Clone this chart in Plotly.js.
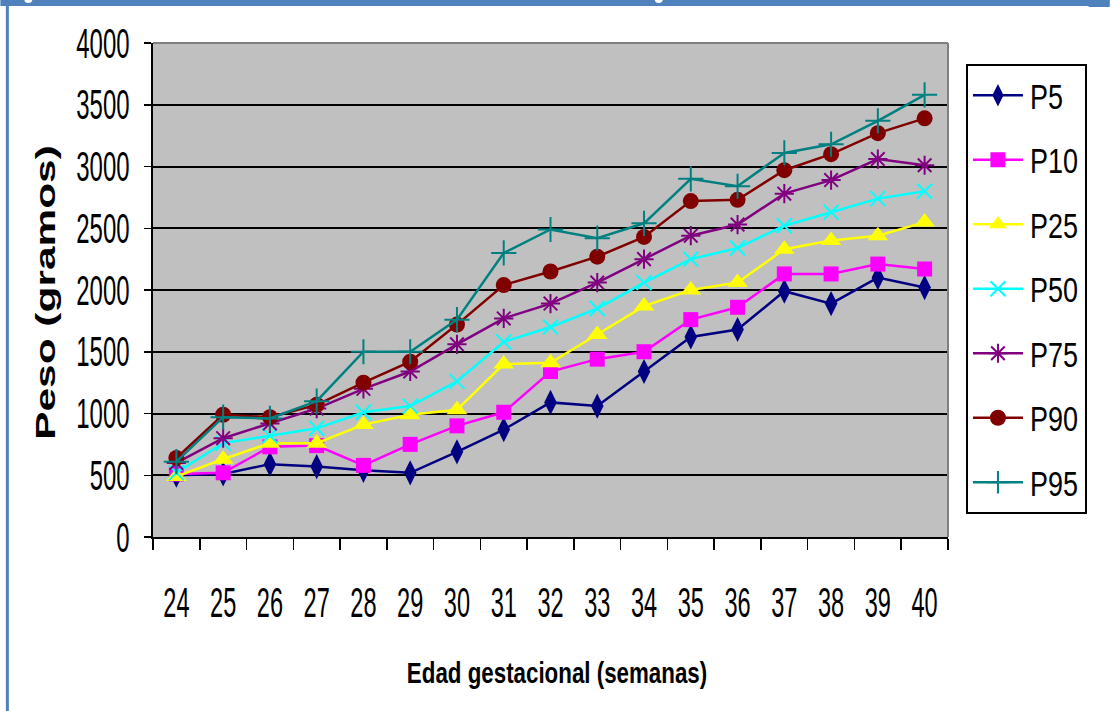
<!DOCTYPE html>
<html>
<head>
<meta charset="utf-8">
<script src="https://cdn.plot.ly/plotly-3.0.1.min.js"></script>
<style>
  html, body { margin: 0; padding: 0; background: #ffffff; }
  #chart { width: 1112px; height: 711px; }
</style>
</head>
<body>
<div id="chart"></div>
<script>
// Gestational age (weeks)
const semanas = ['24','25','26','27','28','29','30','31','32','33','34','35','36','37','38','39','40'];

// Birth weight percentiles (grams)
const p5  = [500, 510, 590, 570, 540, 520, 690, 870, 1090, 1060, 1340, 1620, 1680, 1990, 1890, 2100, 2020];
const p10 = [510, 520, 730, 740, 580, 750, 900, 1010, 1340, 1440, 1500, 1760, 1860, 2130, 2130, 2210, 2170];
const p25 = [490, 630, 760, 760, 910, 990, 1030, 1400, 1410, 1640, 1870, 2000, 2060, 2330, 2400, 2440, 2550];
const p50 = [520, 760, 820, 880, 1010, 1060, 1260, 1580, 1700, 1850, 2060, 2250, 2340, 2520, 2630, 2740, 2800];
const p75 = [600, 800, 920, 1040, 1200, 1340, 1560, 1770, 1890, 2060, 2250, 2440, 2530, 2780, 2890, 3060, 3010];
const p90 = [640, 990, 970, 1070, 1250, 1420, 1720, 2040, 2150, 2270, 2430, 2720, 2730, 2970, 3100, 3270, 3390];
const p95 = [610, 970, 960, 1100, 1500, 1500, 1760, 2300, 2490, 2420, 2540, 2900, 2840, 3110, 3180, 3370, 3580];

const yTicks = [0, 500, 1000, 1500, 2000, 2500, 3000, 3500, 4000];

const SANS = '"Liberation Sans", Arial, sans-serif';

function serie(name, y, color, symbol, size, mline) {
  return {
    type: 'scatter', mode: 'lines+markers', name: name, legendgroup: name,
    x: semanas, y: y,
    line: { color: color, width: 2.5 },
    marker: { symbol: symbol, size: size, color: color,
              line: { color: color, width: mline } },
    hoverinfo: 'x+y+name'
  };
}

const traces = [
  serie('P5',  p5,  '#000080', 'diamond-tall', 18, 0),
  serie('P10', p10, '#FF00FF', 'square', 15, 0),
  serie('P25', p25, '#FFFF00', 'triangle-up', 18, 0),
  serie('P50', p50, '#00FFFF', 'x-thin', 15, 2),
  serie('P75', p75, '#800080', 'asterisk', 16, 2),
  serie('P90', p90, '#800000', 'circle', 16, 0),
  serie('P95', p95, '#008080', 'cross-thin', 18, 2)
];

// page geometry (px)
const W = 1112, H = 711;
const M = { l: 153, r: 162, t: 43, b: 174 };
const pw = W - M.l - M.r, ph = H - M.t - M.b;
const px = v => (v - M.l) / pw;          // pixel x -> paper x
const py = v => (H - M.b - v) / ph;      // pixel y -> paper y

const frameBlue = '#4F81BD';

const layout = {
  width: W, height: H,
  margin: M,
  paper_bgcolor: '#ffffff',
  plot_bgcolor: '#C0C0C0',
  showlegend: true,
  font: { family: SANS, color: '#000000' },
  xaxis: {
    type: 'category',
    categoryorder: 'array', categoryarray: semanas,
    range: [-0.5, semanas.length - 0.5],
    tickmode: 'linear', tick0: 0, dtick: 1, tickangle: 0,
    tickson: 'boundaries',
    ticks: 'outside', ticklen: 11, tickwidth: 1.5, tickcolor: '#000000',
    showline: true, linecolor: '#000000', linewidth: 2,
    showgrid: false, zeroline: false,
    tickfont: { family: SANS, size: 42, color: '#000000' },
    ticklabelstandoff: 28,
    automargin: false
  },
  yaxis: {
    range: [0, 4000],
    tickvals: yTicks, ticktext: yTicks.map(String),
    ticks: 'outside', ticklen: 7, tickwidth: 1.5, tickcolor: '#000000',
    showline: true, linecolor: '#000000', linewidth: 2,
    showgrid: true, gridcolor: '#000000', gridwidth: 2,
    zeroline: false,
    tickfont: { family: SANS, size: 42, color: '#000000' },
    ticklabelstandoff: 6,
    automargin: false
  },
  legend: {
    x: px(968), y: py(64), xanchor: 'left', yanchor: 'top',
    bgcolor: '#ffffff', bordercolor: '#000000', borderwidth: 2,
    font: { family: SANS, size: 35, color: '#000000' },
    traceorder: 'grouped', tracegroupgap: 16,
    itemwidth: 52
  },
  annotations: [
    { text: '<b>Edad gestacional (semanas)</b>', xref: 'paper', yref: 'paper',
      x: px(558), y: py(655), xanchor: 'center', yanchor: 'top', showarrow: false,
      font: { family: SANS, size: 29, color: '#000000' } },
    { text: '<b>Peso (gramos)</b>', xref: 'paper', yref: 'paper', textangle: -90,
      x: px(46), y: py(292), xanchor: 'center', yanchor: 'middle', showarrow: false,
      font: { family: SANS, size: 27, color: '#000000' } }
  ],
  shapes: [
    // plot frame: grey top and right edges
    { type: 'line', xref: 'paper', yref: 'paper', x0: 0, x1: 1, y0: 1, y1: 1,
      line: { color: '#808080', width: 2 } },
    { type: 'line', xref: 'paper', yref: 'paper', x0: 1, x1: 1, y0: 0, y1: 1,
      line: { color: '#808080', width: 2 } },
    // outer blue frame
    { type: 'rect', xref: 'paper', yref: 'paper', x0: px(0), x1: px(W), y0: py(0), y1: py(6),
      fillcolor: frameBlue, line: { width: 0 }, layer: 'above' },
    { type: 'rect', xref: 'paper', yref: 'paper', x0: px(5.5), x1: px(8.5), y0: py(0), y1: py(H),
      fillcolor: frameBlue, line: { width: 0 }, layer: 'above' },
    { type: 'rect', xref: 'paper', yref: 'paper', x0: px(1091), x1: px(W), y0: py(0), y1: py(7),
      fillcolor: frameBlue, line: { width: 0 }, layer: 'above' },
    // frame handles
    { type: 'circle', xref: 'paper', yref: 'paper', x0: px(24), x1: px(32), y0: py(-4), y1: py(3),
      fillcolor: '#ffffff', line: { width: 0 }, layer: 'above' },
    { type: 'circle', xref: 'paper', yref: 'paper', x0: px(656), x1: px(664), y0: py(-4), y1: py(3),
      fillcolor: '#ffffff', line: { width: 0 }, layer: 'above' }
  ]
};

// Narrow/stretch text horizontally along its baseline, keeping the glyph height
function fitText(root, selector, factor) {
  root.querySelectorAll(selector).forEach(el => {
    const len = el.getComputedTextLength();
    if (len > 0) {
      el.setAttribute('textLength', (len * factor).toFixed(1));
      el.setAttribute('lengthAdjust', 'spacingAndGlyphs');
    }
  });
}

Plotly.newPlot('chart', traces, layout, { displayModeBar: false, staticPlot: true }).then(gd => {
  fitText(gd, '.xtick text', 0.56);
  fitText(gd, '.ytick text', 0.57);
  fitText(gd, '.legendtext', 0.77);
  const ann = gd.querySelectorAll('.annotation-text');
  if (ann[0]) fitText(ann[0].parentNode, '.annotation-text', 0.77);
  if (ann[1]) fitText(ann[1].parentNode, '.annotation-text', 1.57);

  // longer legend sample lines, marker in the middle
  gd.querySelectorAll('.legendlines path').forEach(p => p.setAttribute('d', 'M5,0h50'));
  gd.querySelectorAll('.legendpoints path').forEach(p => p.setAttribute('transform', 'translate(30,0)'));
  // legend box width to suit the narrowed labels
  gd.querySelectorAll('.legend rect.bg').forEach(r => r.setAttribute('width', '119'));
});
</script>
</body>
</html>
